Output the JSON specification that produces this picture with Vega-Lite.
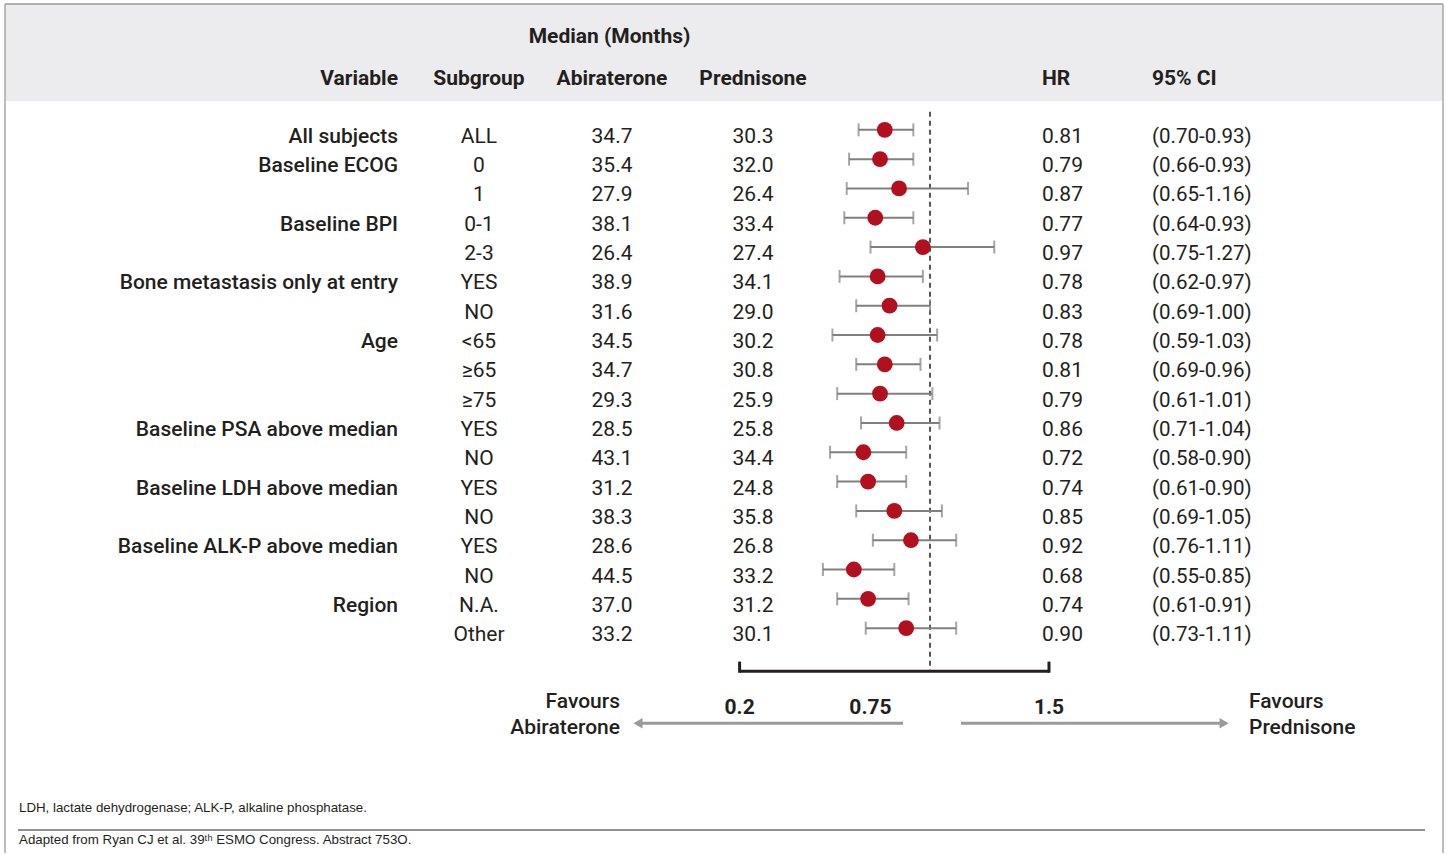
{
  "$schema": "https://vega.github.io/schema/vega-lite/v6.json",
  "width": 1447,
  "height": 854,
  "autosize": {"type": "fit", "contains": "padding"},
  "padding": 0,
  "background": "#ffffff",
  "config": {
    "view": {"stroke": null},
    "axis": {"disable": true},
    "text": {"font": "Roboto", "color": "#231f20", "dy": 2}
  },
  "data": {
    "values": [
      {"row": 1, "variable": "All subjects", "subgroup": "ALL", "abi": 34.7, "pred": 30.3, "hr": 0.81, "lo": 0.70, "hi": 0.93, "ci": "(0.70-0.93)"},
      {"row": 2, "variable": "Baseline ECOG", "subgroup": "0", "abi": 35.4, "pred": 32.0, "hr": 0.79, "lo": 0.66, "hi": 0.93, "ci": "(0.66-0.93)"},
      {"row": 3, "variable": "", "subgroup": "1", "abi": 27.9, "pred": 26.4, "hr": 0.87, "lo": 0.65, "hi": 1.16, "ci": "(0.65-1.16)"},
      {"row": 4, "variable": "Baseline BPI", "subgroup": "0-1", "abi": 38.1, "pred": 33.4, "hr": 0.77, "lo": 0.64, "hi": 0.93, "ci": "(0.64-0.93)"},
      {"row": 5, "variable": "", "subgroup": "2-3", "abi": 26.4, "pred": 27.4, "hr": 0.97, "lo": 0.75, "hi": 1.27, "ci": "(0.75-1.27)"},
      {"row": 6, "variable": "Bone metastasis only at entry", "subgroup": "YES", "abi": 38.9, "pred": 34.1, "hr": 0.78, "lo": 0.62, "hi": 0.97, "ci": "(0.62-0.97)"},
      {"row": 7, "variable": "", "subgroup": "NO", "abi": 31.6, "pred": 29.0, "hr": 0.83, "lo": 0.69, "hi": 1.00, "ci": "(0.69-1.00)"},
      {"row": 8, "variable": "Age", "subgroup": "<65", "abi": 34.5, "pred": 30.2, "hr": 0.78, "lo": 0.59, "hi": 1.03, "ci": "(0.59-1.03)"},
      {"row": 9, "variable": "", "subgroup": "≥65", "abi": 34.7, "pred": 30.8, "hr": 0.81, "lo": 0.69, "hi": 0.96, "ci": "(0.69-0.96)"},
      {"row": 10, "variable": "", "subgroup": "≥75", "abi": 29.3, "pred": 25.9, "hr": 0.79, "lo": 0.61, "hi": 1.01, "ci": "(0.61-1.01)"},
      {"row": 11, "variable": "Baseline PSA above median", "subgroup": "YES", "abi": 28.5, "pred": 25.8, "hr": 0.86, "lo": 0.71, "hi": 1.04, "ci": "(0.71-1.04)"},
      {"row": 12, "variable": "", "subgroup": "NO", "abi": 43.1, "pred": 34.4, "hr": 0.72, "lo": 0.58, "hi": 0.90, "ci": "(0.58-0.90)"},
      {"row": 13, "variable": "Baseline LDH above median", "subgroup": "YES", "abi": 31.2, "pred": 24.8, "hr": 0.74, "lo": 0.61, "hi": 0.90, "ci": "(0.61-0.90)"},
      {"row": 14, "variable": "", "subgroup": "NO", "abi": 38.3, "pred": 35.8, "hr": 0.85, "lo": 0.69, "hi": 1.05, "ci": "(0.69-1.05)"},
      {"row": 15, "variable": "Baseline ALK-P above median", "subgroup": "YES", "abi": 28.6, "pred": 26.8, "hr": 0.92, "lo": 0.76, "hi": 1.11, "ci": "(0.76-1.11)"},
      {"row": 16, "variable": "", "subgroup": "NO", "abi": 44.5, "pred": 33.2, "hr": 0.68, "lo": 0.55, "hi": 0.85, "ci": "(0.55-0.85)"},
      {"row": 17, "variable": "Region", "subgroup": "N.A.", "abi": 37.0, "pred": 31.2, "hr": 0.74, "lo": 0.61, "hi": 0.91, "ci": "(0.61-0.91)"},
      {"row": 18, "variable": "", "subgroup": "Other", "abi": 33.2, "pred": 30.1, "hr": 0.90, "lo": 0.73, "hi": 1.11, "ci": "(0.73-1.11)"}
    ]
  },
  "layer": [
    {
      "data": {"values": [{}]},
      "mark": {"type": "rect", "fill": "#ececee"},
      "encoding": {
        "x": {"datum": -2.8866, "type": "quantitative", "scale": {"domain": [-2.9076, 3.1723], "nice": false, "zero": false}, "axis": null},
        "x2": {"datum": 3.1555},
        "y": {"datum": -3.464, "type": "quantitative", "scale": {"domain": [-3.6, 25.5], "nice": false, "zero": false, "reverse": true}, "axis": null},
        "y2": {"datum": -0.158}
      }
    },
    {
      "data": {"values": [{}]},
      "mark": {"type": "rule", "stroke": "#9a9a9a", "strokeWidth": 1.5},
      "encoding": {
        "x": {"datum": -2.8866, "type": "quantitative"},
        "x2": {"datum": 3.1555},
        "y": {"datum": -3.464, "type": "quantitative"}
      }
    },
    {
      "data": {"values": [{"edge": -2.8866}, {"edge": 3.1555}]},
      "mark": {"type": "rule", "stroke": "#a8a8a8", "strokeWidth": 1.5},
      "encoding": {
        "x": {"field": "edge", "type": "quantitative"},
        "y": {"datum": -3.464, "type": "quantitative"},
        "y2": {"datum": 25.5}
      }
    },
    {
      "data": {"values": [{}]},
      "mark": {"type": "text", "align": "center", "baseline": "middle", "fontSize": 21, "fontWeight": "bold", "text": "Median (Months)"},
      "encoding": {
        "x": {"datum": -0.3466, "type": "quantitative"},
        "y": {"datum": -2.407, "type": "quantitative"}
      }
    },
    {
      "data": {"values": [{}]},
      "mark": {"type": "text", "align": "right", "baseline": "middle", "fontSize": 21, "fontWeight": "bold", "text": "Variable"},
      "encoding": {"x": {"datum": -1.2353, "type": "quantitative"}, "y": {"datum": -0.976, "type": "quantitative"}}
    },
    {
      "data": {"values": [{}]},
      "mark": {"type": "text", "align": "center", "baseline": "middle", "fontSize": 21, "fontWeight": "bold", "text": "Subgroup"},
      "encoding": {"x": {"datum": -0.895, "type": "quantitative"}, "y": {"datum": -0.976, "type": "quantitative"}}
    },
    {
      "data": {"values": [{}]},
      "mark": {"type": "text", "align": "center", "baseline": "middle", "fontSize": 21, "fontWeight": "bold", "text": "Abiraterone"},
      "encoding": {"x": {"datum": -0.3361, "type": "quantitative"}, "y": {"datum": -0.976, "type": "quantitative"}}
    },
    {
      "data": {"values": [{}]},
      "mark": {"type": "text", "align": "center", "baseline": "middle", "fontSize": 21, "fontWeight": "bold", "text": "Prednisone"},
      "encoding": {"x": {"datum": 0.2563, "type": "quantitative"}, "y": {"datum": -0.976, "type": "quantitative"}}
    },
    {
      "data": {"values": [{}]},
      "mark": {"type": "text", "align": "left", "baseline": "middle", "fontSize": 21, "fontWeight": "bold", "text": "HR"},
      "encoding": {"x": {"datum": 1.4706, "type": "quantitative"}, "y": {"datum": -0.976, "type": "quantitative"}}
    },
    {
      "data": {"values": [{}]},
      "mark": {"type": "text", "align": "left", "baseline": "middle", "fontSize": 21, "fontWeight": "bold", "text": "95% CI"},
      "encoding": {"x": {"datum": 1.9328, "type": "quantitative"}, "y": {"datum": -0.976, "type": "quantitative"}}
    },
    {
      "data": {"values": [{}]},
      "mark": {"type": "rule", "stroke": "#231f20", "strokeWidth": 1.5, "strokeDash": [5, 4]},
      "encoding": {
        "x": {"datum": 1, "type": "quantitative"},
        "y": {"datum": 0.216, "type": "quantitative"},
        "y2": {"datum": 19.3}
      }
    },
    {
      "mark": {"type": "rule", "stroke": "#808080", "strokeWidth": 2, "yOffset": -5},
      "encoding": {
        "x": {"field": "lo", "type": "quantitative"},
        "x2": {"field": "hi"},
        "y": {"field": "row", "type": "quantitative"}
      }
    },
    {
      "mark": {"type": "tick", "orient": "vertical", "color": "#808080", "size": 13, "thickness": 2, "yOffset": -5},
      "encoding": {
        "x": {"field": "lo", "type": "quantitative"},
        "y": {"field": "row", "type": "quantitative"}
      }
    },
    {
      "mark": {"type": "tick", "orient": "vertical", "color": "#808080", "size": 13, "thickness": 2, "yOffset": -5},
      "encoding": {
        "x": {"field": "hi", "type": "quantitative"},
        "y": {"field": "row", "type": "quantitative"}
      }
    },
    {
      "mark": {"type": "point", "shape": "circle", "filled": true, "color": "#b20f1f", "opacity": 1, "size": 250, "yOffset": -5},
      "encoding": {
        "x": {"field": "hr", "type": "quantitative"},
        "y": {"field": "row", "type": "quantitative"}
      }
    },
    {
      "mark": {"type": "text", "align": "right", "baseline": "middle", "fontSize": 21, "fontWeight": 500},
      "encoding": {
        "x": {"datum": -1.2353, "type": "quantitative"},
        "y": {"field": "row", "type": "quantitative"},
        "text": {"field": "variable"}
      }
    },
    {
      "mark": {"type": "text", "align": "center", "baseline": "middle", "fontSize": 21},
      "encoding": {
        "x": {"datum": -0.895, "type": "quantitative"},
        "y": {"field": "row", "type": "quantitative"},
        "text": {"field": "subgroup"}
      }
    },
    {
      "mark": {"type": "text", "align": "center", "baseline": "middle", "fontSize": 21},
      "encoding": {
        "x": {"datum": -0.3361, "type": "quantitative"},
        "y": {"field": "row", "type": "quantitative"},
        "text": {"field": "abi", "type": "quantitative", "format": ".1f"}
      }
    },
    {
      "mark": {"type": "text", "align": "center", "baseline": "middle", "fontSize": 21},
      "encoding": {
        "x": {"datum": 0.2563, "type": "quantitative"},
        "y": {"field": "row", "type": "quantitative"},
        "text": {"field": "pred", "type": "quantitative", "format": ".1f"}
      }
    },
    {
      "mark": {"type": "text", "align": "left", "baseline": "middle", "fontSize": 21},
      "encoding": {
        "x": {"datum": 1.4706, "type": "quantitative"},
        "y": {"field": "row", "type": "quantitative"},
        "text": {"field": "hr", "type": "quantitative", "format": ".2f"}
      }
    },
    {
      "mark": {"type": "text", "align": "left", "baseline": "middle", "fontSize": 20.5},
      "encoding": {
        "x": {"datum": 1.9328, "type": "quantitative"},
        "y": {"field": "row", "type": "quantitative"},
        "text": {"field": "ci"}
      }
    },
    {
      "data": {"values": [{}]},
      "mark": {"type": "rule", "stroke": "#231f20", "strokeWidth": 3},
      "encoding": {
        "x": {"datum": 0.2, "type": "quantitative"},
        "x2": {"datum": 1.5},
        "y": {"datum": 19.3, "type": "quantitative"}
      }
    },
    {
      "data": {"values": [{"end": 0.2}, {"end": 1.5}]},
      "mark": {"type": "rule", "stroke": "#231f20", "strokeWidth": 3},
      "encoding": {
        "x": {"field": "end", "type": "quantitative"},
        "y": {"datum": 18.97, "type": "quantitative"},
        "y2": {"datum": 19.35}
      }
    },
    {
      "data": {"values": [{"tick": 0.2}, {"tick": 0.75}, {"tick": 1.5}]},
      "mark": {"type": "text", "align": "center", "baseline": "middle", "fontSize": 21, "fontWeight": "bold"},
      "encoding": {
        "x": {"field": "tick", "type": "quantitative"},
        "y": {"datum": 20.49, "type": "quantitative"},
        "text": {"field": "tick", "type": "quantitative", "format": ".3~f"}
      }
    },
    {
      "data": {"values": [{}]},
      "mark": {"type": "text", "align": "right", "baseline": "middle", "fontSize": 21, "fontWeight": 500, "lineHeight": 26, "lineBreak": "\n", "text": "Favours\nAbiraterone"},
      "encoding": {"x": {"datum": -0.3025, "type": "quantitative"}, "y": {"datum": 20.287, "type": "quantitative"}}
    },
    {
      "data": {"values": [{}]},
      "mark": {"type": "text", "align": "left", "baseline": "middle", "fontSize": 21, "fontWeight": 500, "lineHeight": 26, "lineBreak": "\n", "text": "Favours\nPrednisone"},
      "encoding": {"x": {"datum": 2.3403, "type": "quantitative"}, "y": {"datum": 20.287, "type": "quantitative"}}
    },
    {
      "data": {"values": [{}]},
      "mark": {"type": "rule", "stroke": "#9a9a9a", "strokeWidth": 3},
      "encoding": {"x": {"datum": 0.8866, "type": "quantitative"}, "x2": {"datum": -0.2143}, "y": {"datum": 21.07, "type": "quantitative"}}
    },
    {
      "data": {"values": [{}]},
      "mark": {"type": "rule", "stroke": "#9a9a9a", "strokeWidth": 3},
      "encoding": {"x": {"datum": 1.1303, "type": "quantitative"}, "x2": {"datum": 2.2227}, "y": {"datum": 21.07, "type": "quantitative"}}
    },
    {
      "data": {"values": [{}]},
      "mark": {"type": "point", "shape": "triangle-left", "filled": true, "color": "#9a9a9a", "opacity": 1, "size": 110},
      "encoding": {"x": {"datum": -0.2269, "type": "quantitative"}, "y": {"datum": 21.07, "type": "quantitative"}}
    },
    {
      "data": {"values": [{}]},
      "mark": {"type": "point", "shape": "triangle-right", "filled": true, "color": "#9a9a9a", "opacity": 1, "size": 110},
      "encoding": {"x": {"datum": 2.2357, "type": "quantitative"}, "y": {"datum": 21.07, "type": "quantitative"}}
    },
    {
      "data": {"values": [{}]},
      "mark": {"type": "text", "align": "left", "baseline": "middle", "font": "Liberation Sans", "fontSize": 13.3, "color": "#231f20", "text": "LDH, lactate dehydrogenase; ALK-P, alkaline phosphatase."},
      "encoding": {"x": {"datum": -2.8277, "type": "quantitative"}, "y": {"datum": 23.899, "type": "quantitative"}}
    },
    {
      "data": {"values": [{}]},
      "mark": {"type": "rule", "stroke": "#231f20", "strokeWidth": 1},
      "encoding": {"x": {"datum": -2.8319, "type": "quantitative"}, "x2": {"datum": 3.0798}, "y": {"datum": 24.716, "type": "quantitative"}}
    },
    {
      "data": {"values": [{}]},
      "mark": {"type": "text", "align": "left", "baseline": "middle", "font": "Liberation Sans", "fontSize": 13.3, "color": "#231f20", "text": "Adapted from Ryan CJ et al. 39ᵗʰ ESMO Congress. Abstract 753O."},
      "encoding": {"x": {"datum": -2.8277, "type": "quantitative"}, "y": {"datum": 24.989, "type": "quantitative"}}
    }
  ]
}
